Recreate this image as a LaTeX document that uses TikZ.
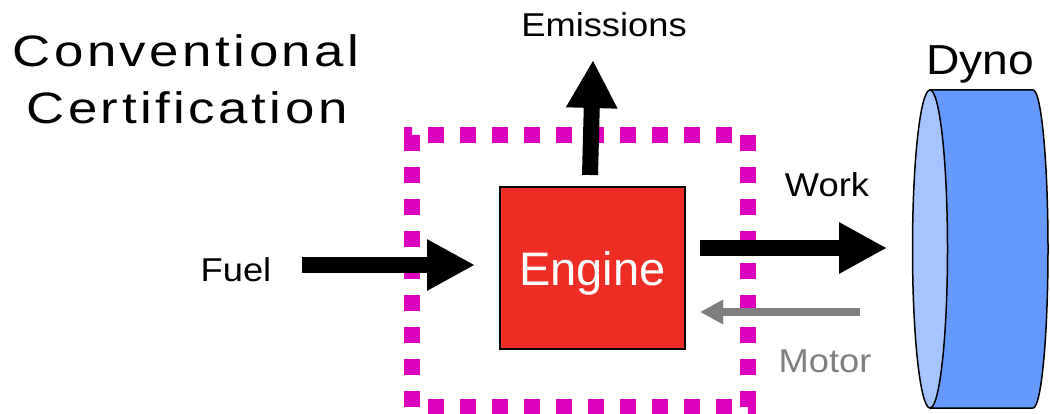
\documentclass[tikz,border=0pt]{standalone}
\usepackage{fontspec}
\setmainfont{Liberation Sans}
\newfontfamily\lblfont[FakeStretch=1.1]{Liberation Sans}
\newfontfamily\ttlfont[FakeStretch=1.2,LetterSpace=8]{Liberation Sans}
\usetikzlibrary{arrows.meta}
\definecolor{dashmag}{RGB}{221,0,190}
\definecolor{engred}{RGB}{238,46,36}
\definecolor{dynoblue}{RGB}{102,153,255}
\definecolor{dynoface}{RGB}{166,196,255}
\definecolor{motorgray}{RGB}{127,127,127}

\begin{document}
\begin{tikzpicture}[x=1pt,y=-1pt,
	lbl/.style={font=\lblfont\fontsize{33}{40}\selectfont, inner sep=0pt, anchor=base},
	ttl/.style={font=\ttlfont\fontsize{44}{57}\selectfont, inner sep=0pt, anchor=base},
	bigarrow/.style={line width=16pt, -{Triangle[length=48pt 0 0,width=48pt 0 0]}},
	smallarrow/.style={line width=8pt, motorgray, -{Triangle[length=23pt 0 0,width=23pt 0 0]}}]
	\useasboundingbox (0,0) rectangle (1050,414);
	% system boundary
	\draw [dashmag, line width=16pt, dash pattern=on 16pt off 16pt] (412,407) -- (412,135) -- (748,135) -- (748,407) -- cycle;
	% dyno
	\draw [line width=1.5pt, fill=dynoblue] (930,90) -- (1033,90) arc [start angle=-90, end angle=90, x radius=15, y radius=159] -- (930,408) -- cycle;
	\draw [line width=1.5pt, fill=dynoface] (930,249) ellipse [x radius=17.5, y radius=159];
	% texts
	\node[ttl] (conv) at (186,67) {Conventional};
	\node[ttl] (cert) at (187,124) {Certification};
	\node[lbl] (emis) at (604,37) {Emissions};
	\node[lbl] (fuel) at (236,282) {Fuel};
	\node[lbl] (work) at (827,197) {Work};
	\node[lbl, text=motorgray] (motor) at (825,372) {Motor};
	\node[lbl, font=\lblfont\fontsize{42}{50}\selectfont] (dyno) at (980,75) {Dyno};
	\node[draw=black, line width=1.2pt, fill=engred, minimum width=185pt, minimum height=162pt, inner sep=0pt,
		text=white, text depth=0pt, font=\fontsize{47}{56}\selectfont] (engine) at (592.5,268) {Engine};
	% flows
	\coordinate (emisfoot) at (590,175);
	\coordinate (emistip) at (593,60);
	\coordinate (fuelfoot) at (302,265);
	\coordinate (fueltip) at (475,265);
	\coordinate (workfoot) at (700,248);
	\coordinate (worktip) at (887,248);
	\coordinate (motorfoot) at (860,312);
	\coordinate (motortip) at (700,312);
	\draw [bigarrow] (emisfoot) -- (emistip);
	\draw [bigarrow] (fuelfoot) -- (fueltip);
	\draw [bigarrow] (workfoot) -- (worktip);
	\draw [smallarrow] (motorfoot) -- (motortip);
\end{tikzpicture}
\end{document}
